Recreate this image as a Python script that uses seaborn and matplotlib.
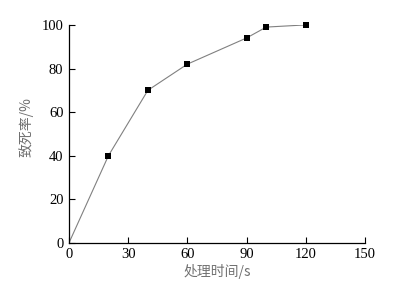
import numpy as np
import pandas as pd
import matplotlib
matplotlib.use("Agg")
import matplotlib.pyplot as plt
import seaborn as sns

# 处理时间 (s) 与 致死率 (%)
time_s = [0, 20, 40, 60, 90, 100, 120]
death_rate = [0, 40, 70, 82, 94, 99, 100]
x_ticks = [0, 30, 60, 90, 120, 150]
y_ticks = [0, 20, 40, 60, 80, 100]

sns.set_style("ticks")
plt.rcParams['font.family'] = ['Liberation Serif', 'Noto Sans CJK SC', 'DejaVu Sans']

df = pd.DataFrame({"time": time_s, "rate": death_rate})

fig = plt.figure(figsize=(4.01, 2.93), dpi=100)
ax = fig.add_axes([0.172, 0.171, 0.738, 0.744])

sns.lineplot(data=df, x="time", y="rate", ax=ax, color="#808080", linewidth=0.8)
pts = df[df["time"] > 0]
ax.scatter(pts["time"], pts["rate"], marker="s", s=18, color="black", zorder=3,
           linewidths=0, clip_on=False)

ax.set_xlim(0, 150)
ax.set_ylim(0, 100)
ax.set_xticks(x_ticks)
ax.set_yticks(y_ticks)
ax.tick_params(direction="in", length=4, width=0.8, labelsize=10.5, colors="black", pad=4)
for s in ["top", "right"]:
    ax.spines[s].set_visible(False)
for s in ["left", "bottom"]:
    ax.spines[s].set_linewidth(0.9)
    ax.spines[s].set_color("black")

ax.set_xlabel("处理时间/s", fontsize=10, color="#707070",
              family=['Noto Sans CJK SC', 'Liberation Serif'], labelpad=2)
ax.set_ylabel("致死率/%", fontsize=10, color="#707070",
              family=['Noto Sans CJK SC', 'Liberation Serif'])
ax.yaxis.set_label_coords(-0.12, 0.53)

fig.savefig("out.png", dpi=100)
